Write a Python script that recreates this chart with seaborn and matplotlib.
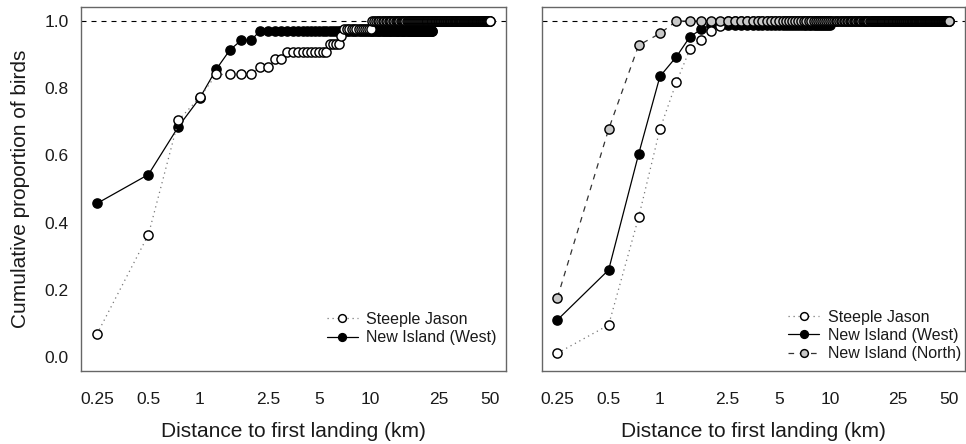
import numpy as np
import pandas as pd
import matplotlib
matplotlib.use('Agg')
import matplotlib.pyplot as plt
import seaborn as sns
from matplotlib.lines import Line2D

# ---------------- data ----------------
# birds were binned every 0.25 km; series values at consecutive bins
step_km = 0.25

# left panel
sj_left = ([0.068, 0.364, 0.705, 0.773] + [0.841] * 4 + [0.864] * 2 + [0.886] * 2 +
           [0.909] * 10 + [0.932] * 4 + [0.955] + [0.977] * 13 + [1.0] * 160)
niw_left = [0.457, 0.543, 0.686, 0.771, 0.857, 0.914, 0.943, 0.943] + [0.971] * 84

# right panel
sj_right = [0.011, 0.095, 0.416, 0.678, 0.818, 0.916, 0.943, 0.970, 0.985] + [1.0] * 31
niw_right = [0.110, 0.259, 0.604, 0.835, 0.894, 0.953, 0.976] + [0.988] * 33
nin_right = [0.176, 0.678, 0.928, 0.963] + [1.0] * 196

xtick_vals = [0.25, 0.5, 1, 2.5, 5, 10, 25, 50]
xtick_labels = ['0.25', '0.5', '1', '2.5', '5', '10', '25', '50']
ytick_vals = [0.0, 0.2, 0.4, 0.6, 0.8, 1.0]
ytick_labels = ['0.0', '0.2', '0.4', '0.6', '0.8', '1.0']

labels_left = ['Steeple Jason', 'New Island (West)']
labels_right = ['Steeple Jason', 'New Island (West)', 'New Island (North)']

# ---------------- styling ----------------
sns.set_theme(style='white')
plt.rcParams['font.family'] = ['Liberation Sans', 'DejaVu Sans']

DOT = (0, (1, 3))
DASH = (0, (4.5, 4.5))
MS = 6.6
MEW = 1.05

styles = {
    'sj': dict(color='#777777', ls=DOT, face='white'),
    'niw': dict(color='black', ls='-', face='black'),
    'nin': dict(color='#333333', ls=DASH, face='#c8c8c8'),
}

W, H = 966, 444
fig = plt.figure(figsize=(W / 100, H / 100), dpi=100)
axL = fig.add_axes([81.3 / W, (H - 371) / H, 424.4 / W, 363.7 / H])
axR = fig.add_axes([541.7 / W, (H - 371) / H, 423.3 / W, 363.7 / H])


def draw(ax, y, key):
    st = styles[key]
    df = pd.DataFrame({'dist': step_km * np.arange(1, len(y) + 1), 'prop': y})
    sns.lineplot(data=df, x='dist', y='prop', ax=ax, estimator=None, sort=False,
                 color=st['color'], linestyle=st['ls'], lw=0.9, marker='o',
                 markersize=MS, markerfacecolor=st['face'],
                 markeredgecolor='black', markeredgewidth=MEW, zorder=3)


def handle(key):
    st = styles[key]
    return Line2D([], [], color=st['color'], ls=st['ls'], lw=0.9, marker='o',
                  markersize=MS - 1, markerfacecolor=st['face'],
                  markeredgecolor='black', markeredgewidth=MEW)


for ax in (axL, axR):
    ax.set_xscale('log')

draw(axL, niw_left, 'niw')
draw(axL, sj_left, 'sj')

draw(axR, niw_right, 'niw')
draw(axR, sj_right, 'sj')
draw(axR, nin_right, 'nin')

for ax in (axL, axR):
    ax.axhline(1.0, color='black', lw=0.8, ls=DASH, zorder=1)
    ax.set_xlim(0.2023, 61.8)
    ax.set_ylim(-0.042, 1.041)
    ax.set_xticks(xtick_vals)
    ax.set_xticklabels(xtick_labels)
    ax.xaxis.set_minor_locator(matplotlib.ticker.NullLocator())
    ax.set_yticks(ytick_vals)
    ax.tick_params(axis='both', which='major', direction='out', length=5.8,
                   width=0.9, color='#333333', labelsize=12.5, labelcolor='#1a1a1a')
    ax.tick_params(axis='x', pad=9)
    ax.tick_params(axis='y', pad=3.5)
    for sp in ax.spines.values():
        sp.set_color('#666666')
        sp.set_linewidth(1.0)
    ax.set_xlabel('Distance to first landing (km)', fontsize=15, color='#1a1a1a', labelpad=11)
    ax.set_ylabel('')
    ax.set_facecolor('white')

axL.set_yticklabels(ytick_labels)
axR.set_yticklabels([])
axL.set_ylabel('Cumulative proportion of birds', fontsize=15, color='#1a1a1a', labelpad=10)

legL = axL.legend([handle('sj'), handle('niw')], labels_left, loc='lower right',
                  bbox_to_anchor=(0.979, 0.071), frameon=False, fontsize=11.5,
                  borderpad=0, borderaxespad=0, handlelength=1.9, handletextpad=0.55,
                  labelspacing=0.2)
legR = axR.legend([handle('sj'), handle('niw'), handle('nin')], labels_right,
                  loc='lower right', bbox_to_anchor=(0.99, 0.027), frameon=False,
                  fontsize=11.5, borderpad=0, borderaxespad=0, handlelength=1.9,
                  handletextpad=0.55, labelspacing=0.2)
for leg in (legL, legR):
    for t in leg.get_texts():
        t.set_color('#1a1a1a')

fig.savefig('out.png', dpi=100, facecolor='white')
